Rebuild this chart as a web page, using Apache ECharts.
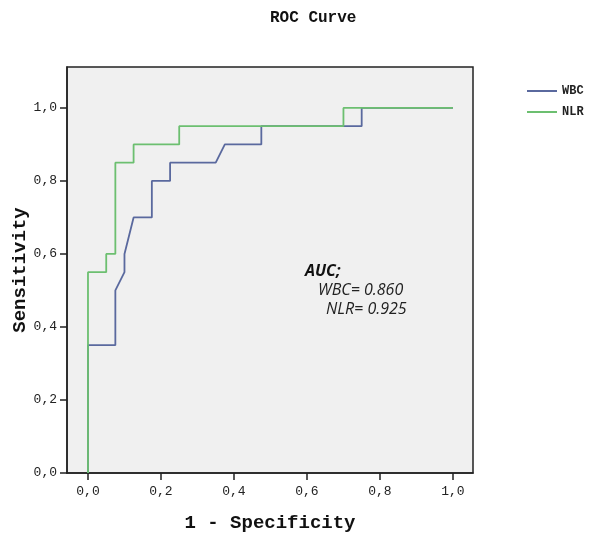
<!DOCTYPE html>
<html>
<head>
<meta charset="utf-8">
<script src="https://cdn.jsdelivr.net/npm/echarts@6/dist/echarts.min.js"></script>
<style>html,body{margin:0;padding:0;background:#fff;}#c{width:602px;height:538px;}</style>
</head>
<body>
<div id="c"></div>
<script>
// Data
const wbcFpr = [0, 0, 0.075, 0.075, 0.1, 0.1, 0.125, 0.175, 0.175, 0.225, 0.225, 0.35, 0.375, 0.475, 0.475, 0.75, 0.75, 1.0];
const wbcTpr = [0, 0.35, 0.35, 0.50, 0.55, 0.60, 0.70, 0.70, 0.80, 0.80, 0.85, 0.85, 0.90, 0.90, 0.95, 0.95, 1.0, 1.0];
const nlrFpr = [0, 0, 0.05, 0.05, 0.075, 0.075, 0.125, 0.125, 0.25, 0.25, 0.70, 0.70, 1.0];
const nlrTpr = [0, 0.55, 0.55, 0.60, 0.60, 0.85, 0.85, 0.90, 0.90, 0.95, 0.95, 1.0, 1.0];
const xTicks = [0, 0.2, 0.4, 0.6, 0.8, 1.0];
const yTicks = [0, 0.2, 0.4, 0.6, 0.8, 1.0];
const seriesNames = ['WBC', 'NLR'];
const aucTitle = 'AUC;';
const aucLines = ['WBC= 0.860', 'NLR= 0.925'];

const zip = (a, b) => a.map((v, i) => [v, b[i]]);
const fmt = v => v.toFixed(1).replace('.', ',');
const mono = '"Liberation Mono", "Courier New", monospace';

const chart = echarts.init(document.getElementById('c'), null, {renderer: 'canvas'});
chart.setOption({
  animation: false,
  backgroundColor: '#ffffff',
  title: {
    text: 'ROC Curve', left: 270, top: 10, padding: 0,
    textStyle: {fontFamily: mono, fontWeight: 'bold', fontSize: 16, color: '#111'}
  },
  legend: {
    orient: 'vertical', left: 527, top: 85, padding: 0,
    itemWidth: 30, itemHeight: 2, itemGap: 9, icon: 'rect',
    data: seriesNames,
    textStyle: {fontFamily: mono, fontWeight: 'bold', fontSize: 12, color: '#222'}
  },
  grid: {
    left: 67, top: 67, width: 406, height: 406,
    outerBoundsMode: 'none', containLabel: false,
    show: true, backgroundColor: '#f0f0f0', borderColor: '#222', borderWidth: 1.5
  },
  xAxis: {
    type: 'value', min: -0.0575, max: 1.055,
    name: '1 - Specificity', nameLocation: 'middle', nameGap: 41, nameMoveOverlap: false,
    nameTextStyle: {fontFamily: mono, fontWeight: 'bold', fontSize: 19, color: '#111'},
    axisLine: {show: true, onZero: false, lineStyle: {color: '#222', width: 1.5}},
    axisTick: {show: true, length: 7, customValues: xTicks, lineStyle: {color: '#222', width: 1.5}},
    axisLabel: {customValues: xTicks, formatter: fmt, margin: 12,
      fontFamily: mono, fontSize: 13, color: '#222'},
    splitLine: {show: false}
  },
  yAxis: {
    type: 'value', min: 0, max: 1.112,
    name: 'Sensitivity', nameLocation: 'middle', nameGap: 37, nameMoveOverlap: false,
    nameTextStyle: {fontFamily: mono, fontWeight: 'bold', fontSize: 19, color: '#111'},
    axisLine: {show: true, onZero: false, lineStyle: {color: '#222', width: 1.5}},
    axisTick: {show: true, length: 7, customValues: yTicks, lineStyle: {color: '#222', width: 1.5}},
    axisLabel: {customValues: yTicks, formatter: fmt, margin: 10,
      fontFamily: mono, fontSize: 13, color: '#222'},
    splitLine: {show: false}
  },
  series: [
    {name: seriesNames[0], type: 'line', data: zip(wbcFpr, wbcTpr), showSymbol: false, symbol: 'none',
     lineStyle: {color: '#5a699e', width: 1.8}, itemStyle: {color: '#5a699e'}, z: 2},
    {name: seriesNames[1], type: 'line', data: zip(nlrFpr, nlrTpr), showSymbol: false, symbol: 'none',
     lineStyle: {color: '#6cbf70', width: 1.8}, itemStyle: {color: '#6cbf70'}, z: 3}
  ],
  graphic: [
    {type: 'text', left: 305, top: 263,
     style: {text: aucTitle, font: 'italic bold 16px "Open Sans", sans-serif', fill: '#111'}},
    {type: 'text', left: 318, top: 282,
     style: {text: aucLines[0], font: 'italic 16px "Open Sans", sans-serif', fill: '#222'}},
    {type: 'text', left: 326, top: 301,
     style: {text: aucLines[1], font: 'italic 16px "Open Sans", sans-serif', fill: '#222'}}
  ]
});
</script>
</body>
</html>
